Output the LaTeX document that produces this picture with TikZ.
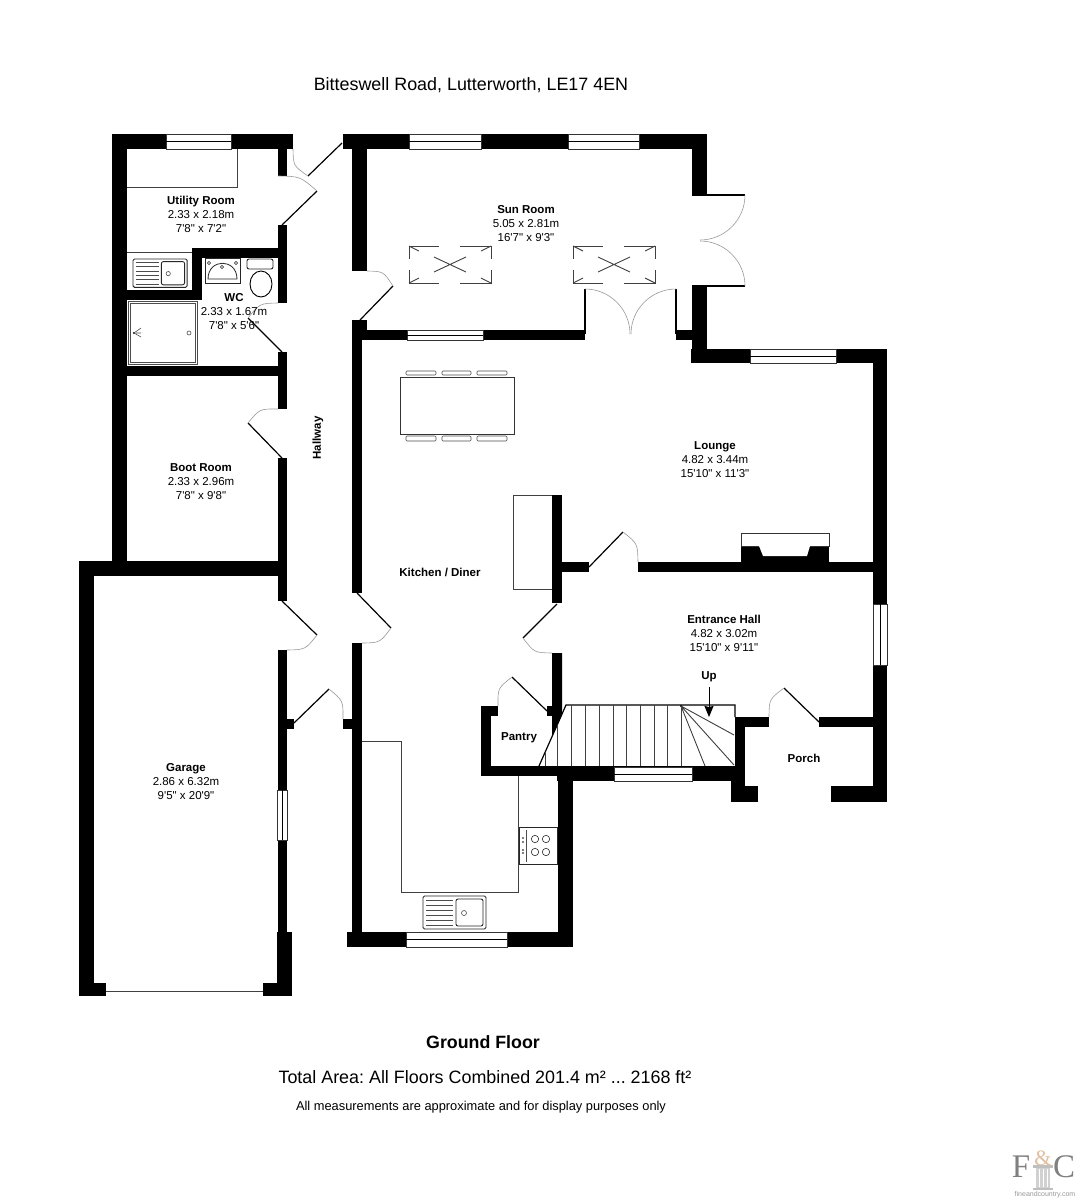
\documentclass[tikz,border=0pt]{standalone}
\usepackage{fontspec}
\setmainfont[Ligatures=TeXOff]{Liberation Sans}
\newfontfamily\logofont{Liberation Serif}
\usetikzlibrary{calc,arrows.meta}
\frenchspacing

\begin{document}
\begin{tikzpicture}[x=1pt,y=-1pt,
	room/.style={align=center,inner sep=0pt,font=\fontsize{11.5}{14}\selectfont},
	roomtag/.style={inner sep=0pt,font=\fontsize{11.5}{14}\selectfont\bfseries},
	caption/.style={inner sep=0pt,font=\fontsize{17.9}{20}\selectfont},
	leaf/.style={black,line width=1.2pt},
	swing/.style={black!40,line width=.6pt},
	pane/.style={draw=black!80,fill=white,line width=.8pt},
	thin line/.style={black!75,line width=.9pt},
	fitting/.style={black!70,line width=.6pt}]
\useasboundingbox (0,0) rectangle (1077,1200);
\fill[white] (0,0) rectangle (1077,1200);

% walls
\foreach \xa/\ya/\xb/\yb in {112/134/293/149,112/134/127/576,278/149/287/176,278/225/287/303,
	192/248/287/258,192/248/202/300,127/290/202/300,278/352/287/409,127/366/287/376,278/458/287/601,
	79/561/287/576,79/561/94/996,79/983/106/996,278/650/287/932,277/932/292/996,263/983/292/996,
	287/719/294/729,343/719/352/729,352/330/362/593,352/643/362/932,347/932/573/947,558/776/573/932,
	481/766/735/776,557/766/745/781,735/717/745/802,731/781/745/802,731/786/758/802,735/717/769/727,
	819/717/873/727,873/349/887/802,831/786/887/802,691/349/887/363,692/286/707/363,692/134/707/195,
	343/134/707/149,352/134/367/271,352/320/367/330,352/330/585/340,676/330/692/340,552/495/562/603,
	562/562/589/572,638/562/873/572,741/546/829/562,481/706/491/776,481/706/498/716,547/706/552/716}
	\fill[black] (\xa,\ya) rectangle (\xb,\yb);
\fill[black] (552,653) -- (562,653) -- (562,715) -- (552,737) -- cycle;

% windows
\foreach \xa/\xb/\ya/\yb in {166/231/134/149,409/481/134/149,568/639/134/149,407/483/330/340,
	750/836/349/363,614/692/767/781,406/507/932/947}{
	\draw[pane] (\xa,\ya) rectangle (\xb,\yb);
	\draw[black,line width=.8pt] (\xa,{(\ya+\yb)/2}) -- (\xb,{(\ya+\yb)/2});
}
\foreach \xa/\xb/\ya/\yb in {277/287/790/840,873/887/604/665}{
	\draw[pane] (\xa,\ya) rectangle (\xb,\yb);
	\draw[black,line width=.8pt] ({(\xa+\xb)/2},\ya) -- ({(\xa+\xb)/2},\yb);
}
\fill[white] (741,533) rectangle (829,546);
\draw[black!80,line width=.8pt] (741,546) -- (741,533) -- (829,533) -- (829,546) -- cycle;
\fill[white] (759,546) -- (810,546) -- (807,556) -- (763,556) -- cycle;

% doors, hinge/tip/jamb
\foreach \hx/\hy/\tx/\ty/\jx/\jy in {342/143/308/176/293/149,282/225/317/191/278/176,282/352/248/318/278/303,
	282/458/248/423/278/409,360/320/393/286/367/271,282/601/317/635/287/650,357/593/391/628/362/643,
	294/723/329/689/343/719,589/567/623/532/638/562,557/604/523/638/552/653,547/711/512/677/498/706,
	819/722/784/688/769/717}{
	\draw[leaf] (\hx,\hy) -- (\tx,\ty);
	\draw[swing] (\tx,\ty) .. controls ($.5858*(\tx,\ty)+.5858*(\jx,\jy)-.1716*(\hx,\hy)$) .. (\jx,\jy);
}
% the double doors open square
\foreach \hx/\hy/\tx/\ty/\jx/\jy in {585/334/585/289/630/334,676/334/676/289/631/334,700/195/745/195/700/240,700/286/745/286/700/241}{
	\draw[leaf] (\hx,\hy) -- (\tx,\ty);
	\draw[swing] (\tx,\ty) .. controls ($(\tx,\ty)+.55*(\jx,\jy)-.55*(\hx,\hy)$) and ($(\jx,\jy)+.55*(\tx,\ty)-.55*(\hx,\hy)$) .. (\jx,\jy);
}
\draw[leaf] (692,195) -- (700,195);
\draw[leaf] (692,286) -- (700,286);
\draw[thin line] (106,991) -- (263,991);

% skylights
\foreach \x in {409,573}{
\begin{scope}[shift={(\x,246)}]
	\draw[thin line] (0,13) -- (0,0) -- (30,0) (51,0) -- (82,0) -- (82,13);
	\draw[thin line] (0,24) -- (0,37) -- (30,37) (51,37) -- (82,37) -- (82,24);
	\draw[thin line] (0,0) -- (10,5) (82,0) -- (72,5) (0,37) -- (10,32) (82,37) -- (72,32);
	\draw[thin line] (25,11) -- (57,26) (25,26) -- (57,11);
\end{scope}
}

% units
\draw[thin line] (127,187) -- (237,187) -- (237,149);
\draw[thin line] (127,252) -- (192,252);
\draw[thin line] (362,741) -- (401,741) -- (401,892) -- (518,892) -- (518,776);
\draw[thin line] (552,495) -- (513,495) -- (513,589) -- (552,589);

% sinks
\foreach \sx/\sy/\ss in {133/259/.86,423/896/1}{
\begin{scope}[shift={(\sx,\sy)},scale=\ss]
	\draw[black!85,line width=.9pt,rounded corners=1.5pt] (0,0) rectangle (63,33);
	\draw[black!85,line width=.9pt,rounded corners=2pt] (33,3) rectangle (60,30);
	\draw[fitting] (41,17) circle (2.5);
	\foreach \y in {4,9,14,19,24,29}
		\draw[fitting] (3,\y) -- (30,\y);
\end{scope}
}

% hob
\draw[black!85,line width=.9pt] (519,827) rectangle (557,864);
\foreach \x/\y in {535/839,546/839,535/852,546/852}
	\draw[fitting,black!85] (\x,\y) circle (3.7);
\draw[fitting] (526,830) -- (526,862);
\foreach \y in {838,842,850,853}
	\fill[black] (523,\y) circle (.8);

% shower
\draw[fitting] (128,301) rectangle (197,364);
\draw[fitting] (130,303) rectangle (195,362);
\fill[black] (134,333) circle (1.2);
\draw[fitting] (134,333) -- (141,328) (134,333) -- (141,337) (136,333) -- (141,333);
\draw[fitting] (189,333) circle (2);

% wc
\draw[black!85,line width=.8pt] (205,258) rectangle (240,283);
\draw[black!85,line width=.8pt] (208,279) .. controls (208,258) and (237,258) .. (237,279) -- cycle;
\foreach \x/\y in {209/263,236/263,222/267}
	\draw[fitting] (\x,\y) circle (1.6);
\draw[black!85,line width=.9pt,rounded corners=2pt] (247,259) rectangle (273,269);
\draw[black,line width=.9pt] (261,284) ellipse (11 and 13);

% table
\draw[black!80,line width=1pt] (400,377) rectangle (514,434);
\foreach \xa/\xb in {406/436,442/471,477/507}{
	\draw[fitting,rounded corners=1pt] (\xa,371) rectangle (\xb,375);
	\draw[fitting,rounded corners=1pt] (\xa,436) rectangle (\xb,441);
}

% stairs
\draw[leaf] (539,766) -- (566,705) -- (735,705) -- (735,717);
\foreach \x in {571,585,599,613,626,640,654,667,681}
	\draw[thin line] (\x,705) -- (\x,766);
\draw[thin line] (545,752) -- (545,766) (557,725) -- (557,766);
\fill[black] (681,706) circle (1.2);
\draw[thin line] (681,706) -- (734,735) (681,706) -- (734,765) (681,706) -- (705,766);
\draw[black,line width=1pt,-{Stealth[length=11pt,width=9pt,inset=1pt]}] (709,687) -- (709,717);

% labels
\node[room] (utility) at (201,214) {{\bfseries Utility Room}\\2.33 x 2.18m\\7'8" x 7'2"};
\node[room] (sun) at (526,224) {{\bfseries Sun Room}\\5.05 x 2.81m\\16'7" x 9'3"};
\node[room] (wc) at (234,312) {{\bfseries WC}\\2.33 x 1.67m\\7'8" x 5'6"};
\node[room] (boot) at (201,482) {{\bfseries Boot Room}\\2.33 x 2.96m\\7'8" x 9'8"};
\node[room] (lounge) at (715,460) {{\bfseries Lounge}\\4.82 x 3.44m\\15'10" x 11'3"};
\node[room] (hall) at (724,633) {{\bfseries Entrance Hall}\\4.82 x 3.02m\\15'10" x 9'11"};
\node[room] (garage) at (186,782) {{\bfseries Garage}\\2.86 x 6.32m\\9'5" x 20'9"};
\node[roomtag] (kitchen) at (440,572) {Kitchen / Diner};
\node[roomtag] (pantry) at (519,738) {Pantry};
\node[roomtag] (porch) at (804,758) {Porch};
\node[roomtag] (up) at (709,677) {Up};
\node[roomtag,rotate=90] (hallway) at (318,438) {Hallway};

\node[caption] (address) at (471,85) {Bitteswell Road, Lutterworth, LE17 4EN};
\node[caption,font=\fontsize{17.8}{20}\selectfont\bfseries] (floor) at (483,1042) {Ground Floor};
\node[caption] (area) at (485,1077) {Total Area: All Floors Combined 201.4 m² ... 2168 ft²};
\node[caption,font=\fontsize{12.85}{15}\selectfont] (note) at (481,1107) {All measurements are approximate and for display purposes only};

% logo
\fill[black!18] (1036,1168) rectangle (1050,1189);
\foreach \x in {1039,1043,1047}
	\draw[white,line width=.6pt] (\x,1169) -- (\x,1187);
\fill[black!25] (1033,1165) rectangle (1053,1168);
\fill[black!25] (1033,1188) rectangle (1053,1190);
\node[inner sep=0pt,text=black!50,font=\logofont\fontsize{33}{33}\selectfont] (logof) at (1021,1167) {F};
\node[inner sep=0pt,text=black!50,font=\logofont\fontsize{33}{33}\selectfont] (logoc) at (1064,1167) {C};
\node[inner sep=0pt,text=brown!50,font=\logofont\fontsize{22}{22}\selectfont] (logoand) at (1043,1158) {\&};
\node[inner sep=0pt,text=black!40,font=\fontsize{7}{8}\selectfont] (logoweb) at (1045,1195) {fineandcountry.com};
\end{tikzpicture}
\end{document}
